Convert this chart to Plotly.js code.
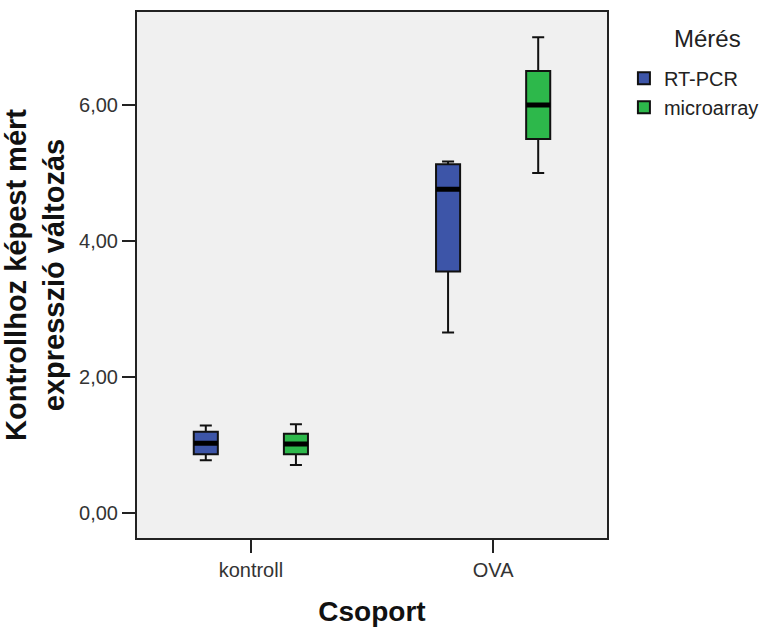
<!DOCTYPE html>
<html><head><meta charset="utf-8">
<script src="https://cdn.plot.ly/plotly-3.0.1.min.js"></script>
<style>body{margin:0;background:#fff}</style>
</head><body><div id="chart" style="width:770px;height:628px"></div>
<script>
var categories = ['kontroll', 'OVA'];
var seriesNames = ['RT-PCR', 'microarray'];
var legendTitle = 'Mérés';
// box statistics
var rtLow = [0.77, 2.65];
var rtQ1 = [0.86, 3.55];
var rtMed = [1.02, 4.76];
var rtQ3 = [1.19, 5.13];
var rtHigh = [1.28, 5.17];
var maLow = [0.70, 5.00];
var maQ1 = [0.86, 5.50];
var maMed = [1.01, 6.00];
var maQ3 = [1.16, 6.50];
var maHigh = [1.30, 7.00];
var yTicks = [0, 2, 4, 6];

var colors = ['#3d55a8', '#2db84b'];

function boxTrace(name, low, q1, med, q3, high, color, grp) {
  return {
    type: 'box', name: name, x: categories,
    lowerfence: low, q1: q1, median: med, q3: q3, upperfence: high,
    fillcolor: color, line: {color: '#111', width: 2},
    whiskerwidth: 0.5, offsetgroup: grp, alignmentgroup: 'a',
    hoverinfo: 'skip'
  };
}
function medTrace(med, grp) {
  return {
    type: 'box', x: categories, showlegend: false,
    lowerfence: med, q1: med, median: med, q3: med, upperfence: med,
    fillcolor: 'rgba(0,0,0,0)', line: {color: '#000', width: 5},
    whiskerwidth: 0, offsetgroup: grp, alignmentgroup: 'a',
    hoverinfo: 'skip'
  };
}

var data = [
  boxTrace(seriesNames[0], rtLow, rtQ1, rtMed, rtQ3, rtHigh, colors[0], 'g1'),
  boxTrace(seriesNames[1], maLow, maQ1, maMed, maQ3, maHigh, colors[1], 'g2'),
  medTrace(rtMed, 'g1'),
  medTrace(maMed, 'g2')
];

var layout = {
  width: 770, height: 628,
  margin: {l: 137, r: 163, t: 12, b: 90, autoexpand: false},
  paper_bgcolor: '#ffffff', plot_bgcolor: '#f0f0f0',
  separators: ',.',
  font: {family: 'Liberation Sans, Arial, sans-serif', color: '#222'},
  boxmode: 'group', boxgap: 0.256, boxgroupgap: 0.733,
  xaxis: {
    type: 'category', range: [-0.47, 1.47],
    showline: true, mirror: true, linecolor: '#222', linewidth: 2,
    ticks: 'outside', ticklen: 13, tickcolor: '#222', tickwidth: 2,
    tickfont: {size: 20, color: '#333'},
    showgrid: false, zeroline: false,
    title: {text: 'Csoport', font: {size: 28, color: '#111', weight: 'bold'}, standoff: 21}
  },
  yaxis: {
    range: [-0.375, 7.37],
    tickvals: yTicks, tickformat: '.2f',
    showline: true, mirror: true, linecolor: '#222', linewidth: 2,
    ticks: 'outside', ticklen: 13, tickcolor: '#222', tickwidth: 2,
    tickfont: {size: 20, color: '#333'},
    showgrid: false, zeroline: false,
    title: {text: 'Kontrollhoz képest mért<br>expresszió változás', font: {size: 29, color: '#111', weight: 'bold'}, standoff: 8}
  },
  showlegend: true,
  legend: {
    x: 1.036, xanchor: 'left', y: 0.911, yanchor: 'top',
    font: {size: 20, color: '#222'},
    bgcolor: 'rgba(0,0,0,0)', itemwidth: 30, tracegroupgap: 0
  },
  annotations: [{
    text: legendTitle, xref: 'paper', yref: 'paper', x: 1.213, y: 0.98,
    xanchor: 'center', yanchor: 'top', showarrow: false,
    font: {size: 24, color: '#222'}
  }]
};

Plotly.newPlot('chart', data, layout, {displayModeBar: false, staticPlot: true});
</script>
</body></html>
